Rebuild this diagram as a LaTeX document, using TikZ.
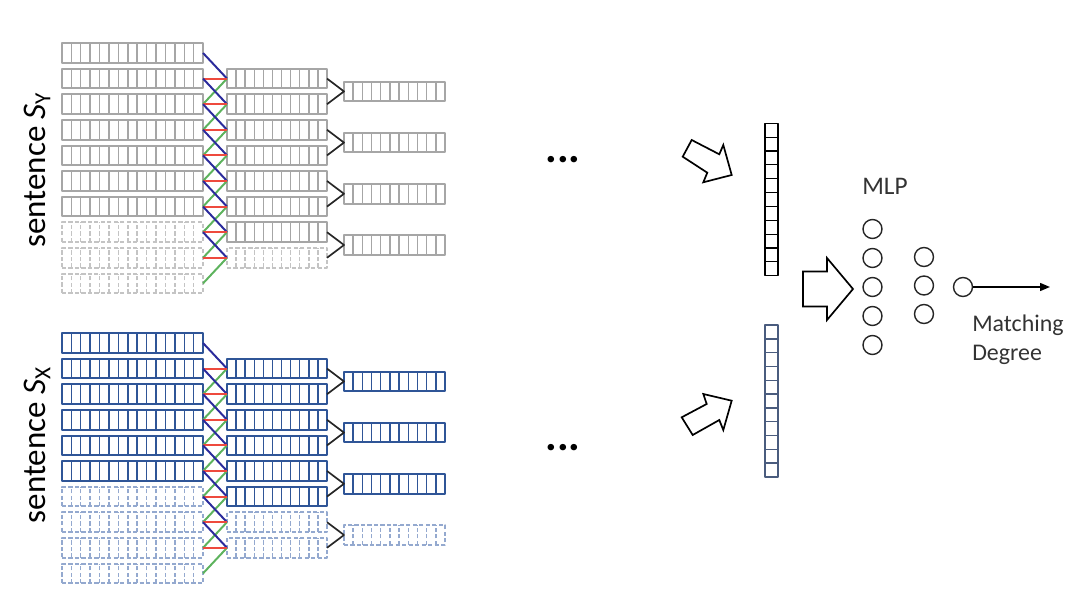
\documentclass[tikz,border=0pt]{standalone}
\usepackage{fontspec}
\setmainfont{Carlito}
\usetikzlibrary{calc}
\usetikzlibrary{arrows.meta}

\definecolor{rowgray}{HTML}{A6A6A6}
\definecolor{rowgraylight}{HTML}{C4C4C4}
\definecolor{rowblue}{HTML}{2F5597}
\definecolor{rowbluelight}{HTML}{94A9CF}
\definecolor{linkblue}{HTML}{2B2B9C}
\definecolor{linkred}{HTML}{EE4A3E}
\definecolor{linkgreen}{HTML}{5DB35D}
\definecolor{vecblue}{HTML}{4A5C7E}

\begin{document}
\begin{tikzpicture}[x = 0.025cm, y = -0.025cm, >={Triangle[length=2.5mm, width=2mm]}, line join = round,
    vecrow/.style = {draw, inner sep = 0pt, outer sep = 0pt, line width = 1.3pt, minimum height = 0.49cm},
    cells/.style = {path picture = {
        \foreach \k [evaluate = \k as \f using \k/(#1+1)] in {1,...,#1}
            \draw[line width = 1pt] ($(path picture bounding box.south west)!\f!(path picture bounding box.south east)$) -- ($(path picture bounding box.north west)!\f!(path picture bounding box.north east)$);
    }},
    vcells/.style = {path picture = {
        \foreach \k [evaluate = \k as \f using \k/(#1+1)] in {1,...,#1}
            \draw[line width = 0.9pt] ($(path picture bounding box.north west)!\f!(path picture bounding box.south west)$) -- ($(path picture bounding box.north east)!\f!(path picture bounding box.south east)$);
    }}]
    % Medidas de las filas (en pixeles de la figura).
    \pgfmathsetmacro{\pitch}{25.6}
    \pgfmathsetmacro{\yO}{53}

    % Estilos de las filas: llenas o punteadas, segun la frase.
    \tikzset{solidY/.style = {rowgray}, dashY/.style = {rowgraylight, dash pattern = on 3pt off 1.6pt},
             solidX/.style = {rowblue}, dashX/.style = {rowbluelight, dash pattern = on 3pt off 1.6pt},
             wideA/.style = {minimum width = 3.525cm, cells = 14},
             wideB/.style = {minimum width = 2.5cm, cells = 10},
             wideC/.style = {minimum width = 2.525cm, cells = 10},
             link/.style = {line width = 1.4pt},
             pool/.style = {line width = 1.2pt, black!85},
             hollow/.style = {draw, line width = 1.2pt, line join = miter},
             neuron/.style = {circle, draw, black!85, line width = 1pt, minimum size = 0.475cm, inner sep = 0pt}}

    \useasboundingbox (0,0) rectangle (1080,603);

    \foreach \p/\off/\na/\nb/\nc/\ly in {Y/0/7/7/4/170, X/290/6/6/3/445}{
        % Primera capa: una fila por palabra.
        \foreach \i in {1,...,10}{
            \ifnum\i>\na \def\look{dash\p}\else \def\look{solid\p}\fi
            \pgfmathsetmacro{\yy}{\yO + \pitch*(\i-1) + \off}
            \node[vecrow, wideA, \look] (\p a\i) at (132.5, \yy) {};
        }
        % Segunda capa (convolucion de ventana 3).
        \foreach \k in {1,...,8}{
            \ifnum\k>\nb \def\look{dash\p}\else \def\look{solid\p}\fi
            \pgfmathsetmacro{\yy}{\yO + \pitch*\k + \off}
            \node[vecrow, wideB, \look] (\p b\k) at (277, \yy) {};
            \pgfmathtruncatemacro{\kk}{\k + 1}
            \pgfmathtruncatemacro{\kkk}{\k + 2}
            \draw[link, linkblue] (\p a\k.east) -- (\p b\k.west);
            \draw[link, linkgreen] (\p a\kkk.east) -- (\p b\k.west);
            \draw[link, linkred] (\p a\kk.east) -- (\p b\k.west);
        }
        % Tercera capa (pooling de a dos).
        \foreach \j in {1,...,4}{
            \ifnum\j>\nc \def\look{dash\p}\else \def\look{solid\p}\fi
            \pgfmathsetmacro{\yy}{\yO + \pitch*(2*\j - 0.5) + \off}
            \node[vecrow, wideC, \look] (\p c\j) at (394.5, \yy) {};
            \pgfmathtruncatemacro{\m}{2*\j - 1}
            \pgfmathtruncatemacro{\n}{2*\j}
            \draw[pool] (\p b\m.east) -- (\p c\j.west) -- (\p b\n.east);
        }
        \node[rotate = 90, font = \fontsize{23.5}{27}\selectfont] (label\p) at (37, \ly) {sentence \textit{S}\textsubscript{\p}};
    }

    \node[font = \fontsize{31}{31}\selectfont\bfseries] (dotsY) at (563, 160) {...};
    \node[font = \fontsize{31}{31}\selectfont\bfseries] (dotsX) at (563, 448) {...};

    % Vectores finales de cada frase.
    \node[draw, black, line width = 1.1pt, inner sep = 0pt, minimum width = 0.325cm, minimum height = 3.81cm, vcells = 10] (vecY) at (771.5, 199.5) {};
    \node[draw, vecblue, line width = 1.1pt, inner sep = 0pt, minimum width = 0.325cm, minimum height = 3.79cm, vcells = 10] (vecX) at (771.5, 401) {};

    % Flechas huecas.
    \draw[hollow] (691.7,140) -- (719.3,154.3) -- (723.3,145) -- (731.7,175) -- (703.3,182.3) -- (707.3,172.7) -- (682.7,156.7) -- cycle;
    \draw[hollow] (681.7,417.3) -- (706.7,404) -- (703.3,394) -- (731.7,400.7) -- (723.3,430) -- (719.3,420) -- (692.7,435) -- cycle;
    \draw[hollow] (803,271.5) -- (827,271.5) -- (827,258) -- (853,289) -- (827,320) -- (827,306.5) -- (803,306.5) -- cycle;

    % MLP
    \node[font = \fontsize{18}{21}\selectfont, black!80, anchor = base] (mlp) at (885, 195) {MLP};
    \foreach \i in {1,...,5}
        \node[neuron] (h\i) at (872.5, {229 + 29*(\i-1)}) {};
    \foreach \i in {1,...,3}
        \node[neuron] (g\i) at (924, {257 + 28.5*(\i-1)}) {};
    \node[neuron] (out) at (963, 287) {};
    \coordinate (end) at (1050, 287);
    \draw[->, line width = 1pt] (out) -- (end);
    \node[font = \fontsize{17}{20.3}\selectfont, black!80, align = left, anchor = north west, inner sep = 0pt] (match) at (972, 315) {Matching\\Degree};

\end{tikzpicture}
\end{document}
